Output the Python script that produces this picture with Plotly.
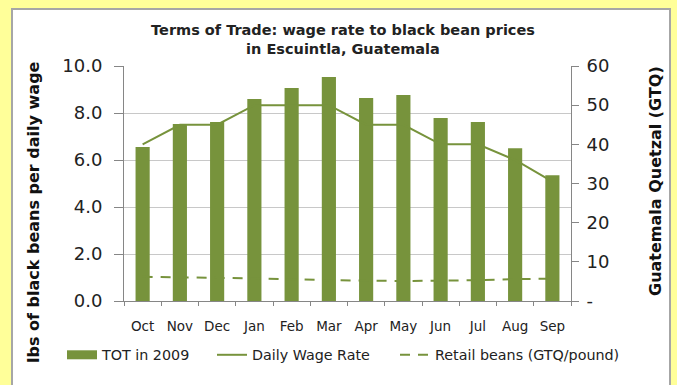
import plotly.graph_objects as go

months = ["Oct", "Nov", "Dec", "Jan", "Feb", "Mar", "Apr", "May", "Jun", "Jul", "Aug", "Sep"]
tot_2009 = [6.55, 7.53, 7.62, 8.6, 9.06, 9.53, 8.64, 8.77, 7.79, 7.62, 6.5, 5.35]
daily_wage = [40, 45, 45, 50, 50, 50, 45, 45, 40, 40, 36, 30.5]
retail_beans = [6.2, 6.0, 5.9, 5.8, 5.5, 5.3, 5.2, 5.1, 5.2, 5.3, 5.6, 5.7]

left_ticks = [0, 2, 4, 6, 8, 10]
right_ticks = [0, 10, 20, 30, 40, 50, 60]
right_ticktext = ["-", "10", "20", "30", "40", "50", "60"]

GREEN = "#77933C"
FONT = "DejaVu Sans"
TXT = "#222222"
W, H = 677, 385
L, R, T, B = 124, 571, 66, 301

pw, ph = R - L, B - T
def px(xp):
    return (xp - L) / pw
def py(yp):
    return (B - yp) / ph

fig = go.Figure()
fig.add_trace(go.Bar(x=months, y=tot_2009, name="TOT in 2009", marker_color=GREEN,
                     marker_line_width=0, yaxis="y", showlegend=False))
# legend-only swatch for the bars (wide block, as in the original legend)
fig.add_trace(go.Scatter(x=[None], y=[None], name="TOT in 2009", mode="lines",
                         line=dict(color=GREEN, width=9), yaxis="y", legend="legend",
                         hoverinfo="skip"))
fig.add_trace(go.Scatter(x=months, y=daily_wage, name="Daily Wage Rate", mode="lines",
                         line=dict(color=GREEN, width=2), yaxis="y2", legend="legend2"))
fig.add_trace(go.Scatter(x=months, y=retail_beans, name="Retail beans (GTQ/pound)", mode="lines",
                         line=dict(color=GREEN, width=2, dash="10px,8px"), yaxis="y2", legend="legend3"))

fig.add_shape(type="rect", xref="paper", yref="paper", layer="below",
              x0=px(12), x1=px(670), y0=py(400), y1=py(9),
              fillcolor="white", line=dict(color="#A6A6A6", width=2))

def leg(xpix):
    return dict(orientation="h", x=px(xpix), xanchor="left", y=py(355), yanchor="middle",
                font=dict(size=14.3, family=FONT, color=TXT), bgcolor="rgba(0,0,0,0)",
                itemwidth=30)

fig.update_layout(
    width=W, height=H,
    margin=dict(l=L, r=W - R, t=T, b=H - B, pad=0),
    paper_bgcolor="#FFFF99",
    plot_bgcolor="white",
    font=dict(family=FONT, color=TXT),
    title=dict(text="<b>Terms of Trade: wage rate to black bean prices<br>in Escuintla, Guatemala</b>",
               x=343 / W, xanchor="center", y=1 - 35 / H, yanchor="middle",
               font=dict(size=14.5, family=FONT, color=TXT)),
    bargap=0.62,
    showlegend=True,
    legend=leg(62),
    legend2=leg(212),
    legend3=leg(395),
    xaxis=dict(showline=True, linecolor="#868686", linewidth=1, ticks="outside", ticklen=4,
               tickcolor="#868686", tickson="boundaries", tickfont=dict(size=13.5, family=FONT, color=TXT),
               ticklabelstandoff=13, showgrid=False, automargin=False),
    yaxis=dict(range=[0, 10], tickvals=left_ticks, tickformat=".1f", showline=True,
               linecolor="#868686", ticks="outside", ticklen=9, tickcolor="#868686",
               showgrid=True, gridcolor="#C8C8C8", gridwidth=1, zeroline=False, automargin=False,
               tickfont=dict(size=18, family=FONT, color=TXT), ticklabelstandoff=8),
    yaxis2=dict(range=[0, 60], tickvals=right_ticks, ticktext=right_ticktext, overlaying="y",
                side="right", showline=True, linecolor="#868686", ticks="outside", ticklen=7,
                tickcolor="#868686", showgrid=False, zeroline=False, automargin=False,
                tickfont=dict(size=18, family=FONT, color=TXT), ticklabelstandoff=4),
)

fig.add_annotation(text="<b>lbs of black beans per daily wage</b>", xref="paper", yref="paper",
                   x=px(33), y=py(212), textangle=-90, showarrow=False, xanchor="center", yanchor="middle",
                   font=dict(size=16, family=FONT, color="#111111"))
fig.add_annotation(text="<b>Guatemala Quetzal (GTQ)</b>", xref="paper", yref="paper",
                   x=px(655), y=py(181), textangle=-90, showarrow=False, xanchor="center", yanchor="middle",
                   font=dict(size=16, family=FONT, color="#111111"))

fig.write_html("out.html")
